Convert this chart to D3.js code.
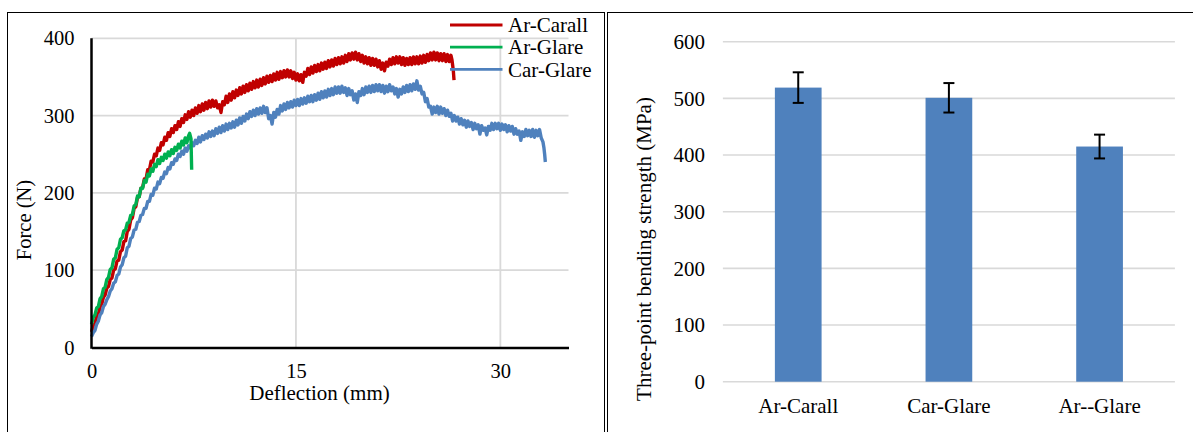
<!DOCTYPE html>
<html>
<head>
<meta charset="utf-8">
<script src="https://cdn.jsdelivr.net/npm/d3@7"></script>
<style>
  html, body { margin: 0; padding: 0; background: #fff; }
  svg { display: block; }
  svg text { font-family: "Liberation Serif", "Times New Roman", serif !important; fill: #000; }
</style>
</head>
<body>
<svg id="chart" width="1193" height="432"></svg>
<script>
// ---- left chart: force vs deflection, [deflection mm, force N] ----
const arCarall = [
  [0,20],[0.125,28],[0.25,31],[0.375,40],[0.5,43],[0.625,52],[0.75,56],[0.875,65],[1,68],[1.125,77],
  [1.25,79],[1.375,88],[1.5,90],[1.625,100],[1.75,102],[1.875,112],[2,113],[2.125,124],[2.25,126],[2.375,137],
  [2.5,138],[2.625,150],[2.75,153],[2.875,165],[3,168],[3.125,180],[3.25,182],[3.375,194],[3.5,195],[3.625,206],
  [3.75,207],[3.875,218],[4,218],[4.125,230],[4.25,230],[4.375,241],[4.5,240],[4.625,250],[4.75,248],[4.875,258],
  [5,255],[5.125,265],[5.25,262],[5.375,272],[5.5,268],[5.625,278],[5.75,273],[5.875,283],[6,278],[6.125,287],
  [6.25,282],[6.375,292],[6.5,286],[6.625,296],[6.75,291],[6.875,301],[7,295],[7.125,305],[7.25,298],[7.375,307],
  [7.5,300],[7.625,310],[7.75,303],[7.875,313],[8,305],[8.125,315],[8.25,307],[8.375,317],[8.5,309],[8.625,319],
  [8.75,311],[8.875,320],[9,312],[9.125,319],[9.25,310],[9.375,314],[9.5,304],[9.625,318],[9.75,314],[9.875,325],
  [10,317],[10.125,328],[10.25,320],[10.375,331],[10.5,323],[10.625,333],[10.75,326],[10.875,336],[11,328],[11.125,338],
  [11.25,330],[11.375,340],[11.5,332],[11.625,342],[11.75,334],[11.875,344],[12,336],[12.125,346],[12.25,337],[12.375,347],
  [12.5,339],[12.625,349],[12.75,341],[12.875,351],[13,343],[13.125,352],[13.25,344],[13.375,354],[13.5,346],[13.625,356],
  [13.75,347],[13.875,357],[14,349],[14.125,358],[14.25,350],[14.375,359],[14.5,350],[14.625,358],[14.75,348],[14.875,356],
  [15,346],[15.125,354],[15.25,345],[15.375,353],[15.5,343],[15.625,356],[15.75,351],[15.875,361],[16,353],[16.125,363],
  [16.25,355],[16.375,365],[16.5,357],[16.625,366],[16.75,358],[16.875,368],[17,360],[17.125,369],[17.25,361],[17.375,371],
  [17.5,363],[17.625,372],[17.75,364],[17.875,374],[18,366],[18.125,375],[18.25,367],[18.375,376],[18.5,368],[18.625,378],
  [18.75,370],[18.875,380],[19,372],[19.125,381],[19.25,373],[19.375,382],[19.5,372],[19.625,380],[19.75,370],[19.875,378],
  [20,368],[20.125,376],[20.25,367],[20.375,375],[20.5,365],[20.625,374],[20.75,365],[20.875,373],[21,363],[21.125,371],
  [21.25,360],[21.375,368],[21.5,358],[21.625,369],[21.75,364],[21.875,373],[22,366],[22.125,375],[22.25,367],[22.375,376],
  [22.5,368],[22.625,376],[22.75,366],[22.875,375],[23,365],[23.125,374],[23.25,366],[23.375,375],[23.5,366],[23.625,376],
  [23.75,367],[23.875,376],[24,367],[24.125,377],[24.25,368],[24.375,378],[24.5,369],[24.625,379],[24.75,371],[24.875,381],
  [25,372],[25.125,382],[25.25,372],[25.375,381],[25.5,371],[25.625,380],[25.75,371],[25.875,380],[26,370],[26.125,379],
  [26.25,370],[26.375,378],[26.45,372],[26.55,358],[26.6,346]
];
const arGlare = [
  [0,30],[0.125,39],[0.25,42],[0.375,51],[0.5,53],[0.625,63],[0.75,66],[0.875,76],[1,78],[1.125,88],
  [1.25,91],[1.375,101],[1.5,103],[1.625,114],[1.75,116],[1.875,127],[2,129],[2.125,140],[2.25,142],[2.375,151],
  [2.5,152],[2.625,161],[2.75,162],[2.875,171],[3,172],[3.125,183],[3.25,185],[3.375,196],[3.5,195],[3.625,206],
  [3.75,206],[3.875,216],[4,214],[4.125,224],[4.25,222],[4.375,231],[4.5,228],[4.625,237],[4.75,234],[4.875,243],
  [5,238],[5.125,246],[5.25,242],[5.375,250],[5.5,245],[5.625,253],[5.75,248],[5.875,256],[6,251],[6.125,259],
  [6.25,255],[6.375,263],[6.5,258],[6.625,267],[6.75,262],[6.875,271],[7,265],[7.125,274],[7.2,277],[7.3,270],
  [7.35,230]
];
const carGlare = [
  [0,14],[0.125,19],[0.25,22],[0.375,30],[0.5,34],[0.625,42],[0.75,45],[0.875,53],[1,56],[1.125,62],
  [1.25,66],[1.375,73],[1.5,76],[1.625,83],[1.75,85],[1.875,93],[2,95],[2.125,104],[2.25,107],[2.375,116],
  [2.5,118],[2.625,129],[2.75,131],[2.875,141],[3,143],[3.125,152],[3.25,153],[3.375,162],[3.5,163],[3.625,171],
  [3.75,172],[3.875,180],[4,180],[4.125,189],[4.25,189],[4.375,198],[4.5,197],[4.625,206],[4.75,205],[4.875,214],
  [5,212],[5.125,220],[5.25,219],[5.375,227],[5.5,225],[5.625,233],[5.75,231],[5.875,239],[6,237],[6.125,244],
  [6.25,242],[6.375,250],[6.5,247],[6.625,254],[6.75,250],[6.875,258],[7,254],[7.125,261],[7.25,258],[7.375,265],
  [7.5,261],[7.625,268],[7.75,264],[7.875,272],[8,266],[8.125,274],[8.25,269],[8.375,276],[8.5,271],[8.625,279],
  [8.75,273],[8.875,280],[9,274],[9.125,283],[9.25,277],[9.375,285],[9.5,278],[9.625,287],[9.75,280],[9.875,289],
  [10,282],[10.125,290],[10.25,284],[10.375,292],[10.5,285],[10.625,294],[10.75,288],[10.875,297],[11,290],[11.125,299],
  [11.25,293],[11.375,302],[11.5,296],[11.625,305],[11.75,299],[11.875,307],[12,300],[12.125,309],[12.25,302],[12.375,310],
  [12.5,303],[12.625,312],[12.75,304],[12.875,310],[13,296],[13.125,300],[13.25,289],[13.375,304],[13.5,298],[13.625,308],
  [13.75,302],[13.875,313],[14,306],[14.125,315],[14.25,308],[14.375,317],[14.5,310],[14.625,318],[14.75,311],[14.875,320],
  [15,313],[15.125,321],[15.25,313],[15.375,322],[15.5,315],[15.625,323],[15.75,316],[15.875,325],[16,318],[16.125,326],
  [16.25,318],[16.375,327],[16.5,320],[16.625,329],[16.75,321],[16.875,331],[17,323],[17.125,332],[17.25,324],[17.375,334],
  [17.5,326],[17.625,335],[17.75,327],[17.875,337],[18,329],[18.125,337],[18.25,329],[18.375,338],[18.5,330],[18.625,336],
  [18.75,326],[18.875,335],[19,327],[19.125,332],[19.25,320],[19.375,328],[19.5,317],[19.625,331],[19.75,326],[19.875,335],
  [20,327],[20.125,337],[20.25,330],[20.375,338],[20.5,330],[20.625,339],[20.75,331],[20.875,340],[21,332],[21.125,340],
  [21.25,331],[21.375,339],[21.5,329],[21.625,338],[21.75,331],[21.875,340],[22,332],[22.125,337],[22.25,328],[22.375,335],
  [22.5,324],[22.625,334],[22.75,328],[22.875,337],[23,330],[23.125,339],[23.25,331],[23.375,340],[23.5,332],[23.625,341],
  [23.75,334],[23.875,345],[24,333],[24.125,338],[24.25,328],[24.375,330],[24.5,318],[24.625,322],[24.75,311],[24.875,312],
  [25,302],[25.125,311],[25.25,304],[25.375,312],[25.5,302],[25.625,311],[25.75,303],[25.875,309],[26,300],[26.125,307],
  [26.25,299],[26.375,303],[26.5,293],[26.625,300],[26.75,293],[26.875,298],[27,289],[27.125,296],[27.25,288],[27.375,294],
  [27.5,285],[27.625,293],[27.75,286],[27.875,291],[28,282],[28.125,290],[28.25,283],[28.375,288],[28.5,276],[28.625,287],
  [28.75,281],[28.875,284],[29,275],[29.125,286],[29.25,281],[29.375,290],[29.5,282],[29.625,290],[29.75,283],[29.875,290],
  [30,281],[30.125,289],[30.25,282],[30.375,288],[30.5,279],[30.625,287],[30.75,280],[30.875,286],[31,276],[31.125,283],
  [31.25,276],[31.375,280],[31.5,268],[31.625,279],[31.75,273],[31.875,282],[32,274],[32.125,281],[32.25,273],[32.375,282],
  [32.5,272],[32.625,281],[32.75,274],[32.875,282],[33,271],[33.125,266],[33.2,258],[33.25,250],[33.3,240]
];
const lineNames = ["Ar-Carall", "Ar-Glare", "Car-Glare"];
const lineColors = ["#C00000", "#00B050", "#4F81BD"];
const forceTicks = [0, 100, 200, 300, 400];
const deflectionTicks = [0, 15, 30];

// ---- right chart: bending strength bars ----
const barCategories = ["Ar-Carall", "Car-Glare", "Ar--Glare"];
const barValues = [519, 501, 415];
const barErrors = [27, 26, 21];
const strengthTicks = [0, 100, 200, 300, 400, 500, 600];

const svg = d3.select("#chart");

// panel frames
svg.append("rect").attr("x", 7.5).attr("y", 12.5).attr("width", 597).attr("height", 440)
  .attr("fill", "none").attr("stroke", "#000").attr("stroke-width", 1);
svg.append("rect").attr("x", 607.5).attr("y", 12.5).attr("width", 600).attr("height", 440)
  .attr("fill", "none").attr("stroke", "#000").attr("stroke-width", 1);

////// Left: line chart //////
const x = d3.scaleLinear().domain([0, 35]).range([91.5, 568.5]);
const y = d3.scaleLinear().domain([0, 400]).range([347.5, 38.3]);

const left = svg.append("g");

// gridlines
left.append("g").selectAll("line").data(forceTicks.filter(d => d > 0)).join("line")
  .attr("x1", x(0)).attr("x2", x(35)).attr("y1", d => y(d)).attr("y2", d => y(d))
  .attr("stroke", "#D9D9D9").attr("stroke-width", 1.8);
left.append("g").selectAll("line").data(deflectionTicks.filter(d => d > 0)).join("line")
  .attr("x1", d => x(d)).attr("x2", d => x(d)).attr("y1", y(0)).attr("y2", y(400))
  .attr("stroke", "#D9D9D9").attr("stroke-width", 1.8);

// curves
const line = d3.line().x(d => x(d[0])).y(d => y(d[1]));
const series = [
  { data: arCarall, color: lineColors[0] },
  { data: carGlare, color: lineColors[2] },
  { data: arGlare, color: lineColors[1] }
];
left.append("g").selectAll("path").data(series).join("path")
  .attr("d", d => line(d.data))
  .attr("fill", "none")
  .attr("stroke", d => d.color)
  .attr("stroke-width", 3.4)
  .attr("stroke-linejoin", "round");

// axes
const yAxis = left.append("g").attr("transform", `translate(${x(0)},0)`)
  .call(d3.axisLeft(y).tickValues(forceTicks).tickSize(0).tickPadding(17));
const xAxis = left.append("g").attr("transform", `translate(0,${y(0)})`)
  .call(d3.axisBottom(x).tickValues(deflectionTicks).tickSize(0).tickPadding(16));
[yAxis, xAxis].forEach(a => {
  a.select(".domain").attr("stroke", "#000").attr("stroke-width", 2.5);
  a.selectAll("text").attr("font-size", 20.5);
});
yAxis.select(".domain").attr("d", `M0,${y(0) + 1.2}V${y(400)}`);

left.append("text").attr("x", 319.5).attr("y", 400)
  .attr("text-anchor", "middle").attr("font-size", 21)
  .text("Deflection (mm)");
left.append("text").attr("transform", "translate(31,220) rotate(-90)")
  .attr("text-anchor", "middle").attr("font-size", 20.5)
  .text("Force (N)");

// legend
const legend = left.append("g").selectAll("g").data(lineNames).join("g")
  .attr("transform", (d, i) => `translate(450,${25 + i * 22.2})`);
legend.append("line").attr("x1", 0).attr("x2", 52.5)
  .attr("stroke", (d, i) => lineColors[i]).attr("stroke-width", 2.8);
legend.append("text").attr("x", 58).attr("dy", "0.34em")
  .attr("font-size", 21).text(d => d);

////// Right: bar chart //////
const xb = d3.scaleBand().domain(barCategories).range([722.9, 1174.9])
  .paddingInner(0.69).paddingOuter(0.345);
const yb = d3.scaleLinear().domain([0, 600]).range([381.7, 41.7]);

const right = svg.append("g");
right.append("g").selectAll("line").data(strengthTicks).join("line")
  .attr("x1", 722.9).attr("x2", 1174.9).attr("y1", d => yb(d)).attr("y2", d => yb(d))
  .attr("stroke", "#D9D9D9").attr("stroke-width", 1.6);

right.append("g").selectAll("rect").data(barValues).join("rect")
  .attr("x", (d, i) => xb(barCategories[i]))
  .attr("width", xb.bandwidth())
  .attr("y", d => yb(d))
  .attr("height", d => yb(0) - yb(d))
  .attr("fill", "#4F81BD");

const err = right.append("g").selectAll("g").data(barValues).join("g")
  .attr("transform", (d, i) => `translate(${xb(barCategories[i]) + xb.bandwidth() / 2},0)`);
err.append("line").attr("y1", (d, i) => yb(d + barErrors[i])).attr("y2", (d, i) => yb(d - barErrors[i]))
  .attr("stroke", "#000").attr("stroke-width", 2);
err.append("line").attr("x1", -5.5).attr("x2", 5.5)
  .attr("y1", (d, i) => yb(d + barErrors[i])).attr("y2", (d, i) => yb(d + barErrors[i]))
  .attr("stroke", "#000").attr("stroke-width", 2);
err.append("line").attr("x1", -5.5).attr("x2", 5.5)
  .attr("y1", (d, i) => yb(d - barErrors[i])).attr("y2", (d, i) => yb(d - barErrors[i]))
  .attr("stroke", "#000").attr("stroke-width", 2);

const ybAxis = right.append("g").attr("transform", "translate(722.9,0)")
  .call(d3.axisLeft(yb).tickValues(strengthTicks).tickSize(0).tickPadding(18));
const xbAxis = right.append("g").attr("transform", `translate(0,${yb(0)})`)
  .call(d3.axisBottom(xb).tickSize(0).tickPadding(16));
[ybAxis, xbAxis].forEach(a => {
  a.select(".domain").remove();
  a.selectAll("text").attr("font-size", 21);
});

right.append("text").attr("transform", "translate(651,249) rotate(-90)")
  .attr("text-anchor", "middle").attr("font-size", 21)
  .text("Three-point bending strength (MPa)");
</script>
</body>
</html>
